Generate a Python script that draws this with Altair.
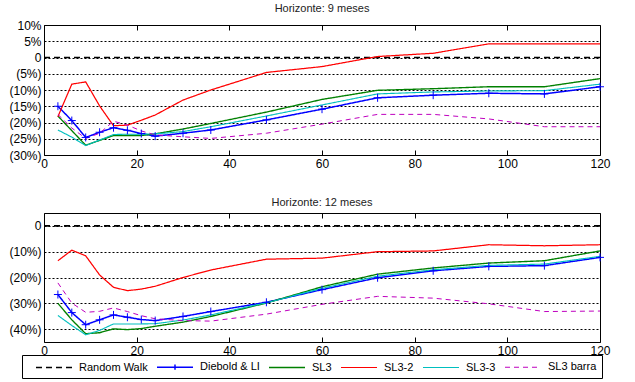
import altair as alt
import pandas as pd

# ---------------- data ----------------
horizons = [3, 6, 9, 12, 15, 18, 21, 24, 30, 36, 48, 60, 72, 84, 96, 108, 120]
series_names = ["Random Walk", "Diebold & LI", "SL3", "SL3-2", "SL3-3", "SL3 barra"]

rw_x = [0, 120]
rw_y = [0, 0]

# Horizonte: 9 meses  (values in %)
diebold_9 = [-15.0, -19.4, -24.6, -23.0, -21.6, -22.4, -23.4, -24.2, -23.3, -22.3, -19.2, -15.9, -12.4, -11.6, -11.0, -11.2, -9.0]
sl3_9 = [-18.0, -22.5, -27.0, -25.5, -24.0, -24.0, -24.0, -23.5, -22.0, -20.3, -16.8, -12.9, -10.1, -9.6, -9.0, -9.0, -6.5]
sl3_2_9 = [-18.2, -8.2, -7.5, -14.9, -21.0, -20.8, -19.3, -17.7, -13.1, -10.0, -4.6, -2.8, 0.3, 1.3, 4.2, 4.2, 4.2]
sl3_3_9 = [-22.3, -24.5, -27.1, -25.4, -23.7, -23.6, -23.6, -23.5, -22.8, -21.3, -18.0, -14.6, -11.2, -10.6, -10.3, -10.2, -8.2]
barra_9 = [-17.5, -21.7, -24.9, -23.3, -19.6, -20.8, -22.6, -23.8, -24.4, -24.9, -23.3, -20.5, -17.5, -17.5, -18.9, -21.3, -21.3]

# Horizonte: 12 meses (values in %)
diebold_12 = [-26.6, -33.6, -38.3, -36.4, -34.5, -35.4, -36.3, -36.7, -35.1, -33.2, -29.6, -24.7, -20.1, -17.4, -15.7, -15.4, -12.2]
sl3_12 = [-30.0, -36.4, -41.8, -41.4, -39.9, -40.2, -39.8, -38.9, -37.3, -35.1, -29.9, -23.6, -18.7, -16.3, -14.4, -13.5, -9.7]
sl3_2_12 = [-13.5, -9.4, -11.6, -19.0, -23.8, -25.1, -24.5, -23.4, -20.0, -17.1, -12.9, -12.5, -10.0, -9.7, -7.3, -7.7, -7.3]
sl3_3_12 = [-34.7, -38.6, -42.2, -40.5, -38.0, -38.0, -38.0, -37.9, -36.5, -34.5, -29.8, -24.2, -19.5, -17.0, -15.3, -14.8, -11.8]
barra_12 = [-22.1, -29.9, -33.5, -33.1, -31.8, -33.2, -34.8, -36.0, -36.7, -36.9, -34.2, -30.4, -27.3, -28.0, -30.2, -33.2, -33.0]

x_ticks = [0, 20, 40, 60, 80, 100, 120]
y_ticks_9 = [10, 5, 0, -5, -10, -15, -20, -25, -30]
y_ticks_12 = [0, -10, -20, -30, -40]

# ---------------- styles ----------------
colors = ["#000000", "#0000ff", "#008000", "#ff0000", "#00bfbf", "#bf00bf"]
dashes = [[6, 4], [1, 0], [1, 0], [1, 0], [1, 0], [5, 4]]
widths = [1.6, 1.0, 2.4, 1.0, 1.0, 1.0]
FONT = "Liberation Sans"
AXFS = 12


def make_df(d, s3, s2, s33, sb):
    rows = []
    for x, v in zip(rw_x, rw_y):
        rows.append({"h": x, "v": v, "serie": "Random Walk"})
    for name, vals in [("Diebold & LI", d), ("SL3", s3), ("SL3-2", s2),
                       ("SL3-3", s33), ("SL3 barra", sb)]:
        for x, v in zip(horizons, vals):
            rows.append({"h": x, "v": v, "serie": name})
    return pd.DataFrame(rows)


label_expr = ("datum.value < 0 ? '(' + (-datum.value) + '%)' : "
              "(datum.value == 0 ? '0' : datum.value + '%')")

legend = alt.Legend(
    title=None, orient="none", legendX=-22, legendY=330,
    direction="horizontal", columns=6, columnPadding=alt.ExprRef("-2"),
    symbolType=alt.ExprRef("datum.label == 'Diebold & LI' ? 'M-3,0H3M0,-0.45V0.45' : 'M-3,0H3'"),
    symbolSize=144,
    labelFont=FONT, labelFontSize=11, labelColor="#000", labelLimit=0,
    strokeColor="black", fillColor="white", padding=5, cornerRadius=0,
    symbolOffset=20, labelOffset=18,
)


def panel(df, title, ydom, yvals, height):
    base = alt.Chart(df)
    xs = alt.Scale(domain=[0, 120], nice=False, zero=False)
    ys = alt.Scale(domain=ydom, nice=False, zero=False)
    y_axis = alt.Axis(values=yvals, title=None, grid=True, gridColor="black",
                      gridDash=[2, 2], gridWidth=1, gridOpacity=1, ticks=False,
                      domain=False, labelExpr=label_expr, labelPadding=3,
                      labelFont=FONT, labelFontSize=AXFS, labelColor="#000")
    lines = base.mark_line(clip=True).encode(
        x=alt.X("h:Q", scale=xs,
                axis=alt.Axis(values=x_ticks, title=None, grid=False, domain=False,
                              tickSize=alt.ExprRef("-5"), tickColor="black",
                              labelPadding=8, labelFont=FONT, labelFontSize=AXFS,
                              labelColor="#000", labelFlush=False)),
        y=alt.Y("v:Q", scale=ys, axis=y_axis),
        color=alt.Color("serie:N", scale=alt.Scale(domain=series_names, range=colors),
                        sort=series_names, legend=legend),
        strokeDash=alt.StrokeDash("serie:N", scale=alt.Scale(domain=series_names, range=dashes),
                                  sort=series_names, legend=legend),
        strokeWidth=alt.StrokeWidth("serie:N", scale=alt.Scale(domain=series_names, range=widths),
                                    sort=series_names, legend=legend),
    )
    pts = base.transform_filter(alt.datum.serie == "Diebold & LI").mark_point(
        shape="M-1,0H1M0,-1V1", filled=False, size=64, color="#0000ff",
        strokeWidth=1, opacity=1).encode(
        x=alt.X("h:Q", scale=xs, axis=None),
        y=alt.Y("v:Q", scale=ys, axis=y_axis),
    )
    top = base.mark_point(opacity=0).encode(
        x=alt.X("h:Q", scale=xs,
                axis=alt.Axis(orient="top", values=x_ticks, labels=False, title=None,
                              grid=False, domain=False, tickSize=alt.ExprRef("-5"),
                              tickColor="black")),
        y=alt.Y("v:Q", scale=ys, axis=y_axis),
    )
    return alt.layer(lines, pts, top).resolve_axis(x="independent").properties(
        width=556, height=height,
        title=alt.TitleParams(title, font=FONT, fontSize=11, fontWeight="normal",
                              color="#222", anchor="middle", frame="group", offset=5),
    )


p1 = panel(make_df(diebold_9, sl3_9, sl3_2_9, sl3_3_9, barra_9),
           "Horizonte: 9 meses", [-30, 10], y_ticks_9, 130)
p2 = panel(make_df(diebold_12, sl3_12, sl3_2_12, sl3_3_12, barra_12),
           "Horizonte: 12 meses", [-45, 5], y_ticks_12, 129)

chart = alt.vconcat(p1, p2, spacing=26).resolve_scale(
    color="shared", strokeDash="shared", strokeWidth="shared"
).properties(
    padding={"left": 8, "top": 2, "right": 2, "bottom": 0},
    background="white",
).configure_view(stroke="black", strokeWidth=1)

chart.save("out.html", embed_options={"renderer": "svg", "actions": False})
